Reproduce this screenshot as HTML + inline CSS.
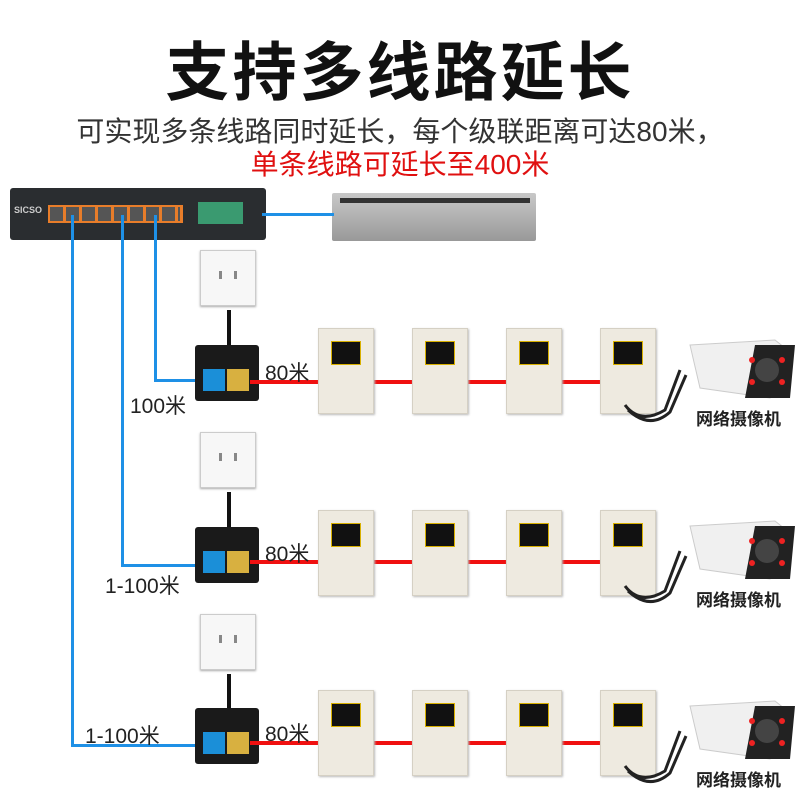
<!DOCTYPE html>
<html><head><meta charset="utf-8"><style>
body{margin:0;width:800px;height:800px;background:#fff;position:relative;overflow:hidden;font-family:"Liberation Sans","Noto Sans CJK SC",sans-serif}
.a{position:absolute}
.ln{position:absolute;background:#1e90e6}
.rd{position:absolute;background:#f01010;height:4px}
.out{position:absolute;width:54px;height:54px;background:#f7f7f7;border:1px solid #ccc;box-shadow:0 1px 2px #aaa}
.out i{position:absolute;background:#888;width:3px;height:8px}
.inj{position:absolute;width:64px;height:56px;background:#1a1a1a;border-radius:3px}
.inj .b{position:absolute;left:8px;top:24px;width:22px;height:22px;background:#1b8fd8}
.inj .y{position:absolute;left:32px;top:24px;width:22px;height:22px;background:#d8b040}
.ext{position:absolute;width:54px;height:84px;background:#eeeae0;border:1px solid #d5d0c4;box-shadow:1px 1px 2px #bbb}
.ext i{position:absolute;left:12px;top:12px;width:28px;height:22px;background:#111;border:1px solid #d8b000}
.t{position:absolute;font-size:21px;color:#222}
.bl{position:absolute;width:4px;background:#111}
.cl{position:absolute;left:696px;font-size:17px;font-weight:bold;color:#222}
</style></head><body>
<div class="a" style="left:0;top:22px;width:800px;text-align:center;font-size:64px;font-weight:bold;color:#111;letter-spacing:3px">支持多线路延长</div>
<div class="a" style="left:0;top:110px;width:800px;text-align:center;font-size:28px;color:#333">可实现多条线路同时延长，每个级联距离可达80米，</div>
<div class="a" style="left:0;top:143px;width:800px;text-align:center;font-size:28px;color:#e01010">单条线路可延长至400米</div>

<div class="a" style="left:10px;top:188px;width:256px;height:52px;background:#2a2d30;border-radius:3px"></div>
<div class="a" style="left:48px;top:205px;width:135px;height:18px;background:#e87d2a"></div>
<div class="a" style="left:50px;top:207px;width:130px;height:14px;background:repeating-linear-gradient(90deg,#555 0 13px,#e87d2a 13px 16px)"></div>
<div class="a" style="left:198px;top:202px;width:45px;height:22px;background:#3a9a70"></div>
<div class="a" style="left:14px;top:205px;color:#ccc;font-size:9px;font-weight:bold">SICSO</div>
<div class="a" style="left:332px;top:193px;width:204px;height:48px;background:linear-gradient(#c8c8c8,#999);border-radius:2px"></div>
<div class="a" style="left:340px;top:198px;width:190px;height:5px;background:#333"></div>
<div class="ln" style="left:262px;top:213px;width:72px;height:3px"></div>

<div class="ln" style="left:71px;top:215px;width:3px;height:532px"></div>
<div class="ln" style="left:71px;top:744px;width:135px;height:3px"></div>
<div class="ln" style="left:121px;top:215px;width:3px;height:352px"></div>
<div class="ln" style="left:121px;top:564px;width:85px;height:3px"></div>
<div class="ln" style="left:154px;top:215px;width:3px;height:167px"></div>
<div class="ln" style="left:154px;top:379px;width:52px;height:3px"></div>

<div class="out" style="left:200px;top:250px"><i style="left:18px;top:20px"></i><i style="left:33px;top:20px"></i></div>
<div class="out" style="left:200px;top:432px"><i style="left:18px;top:20px"></i><i style="left:33px;top:20px"></i></div>
<div class="out" style="left:200px;top:614px"><i style="left:18px;top:20px"></i><i style="left:33px;top:20px"></i></div>
<div class="bl" style="left:227px;top:310px;height:36px"></div>
<div class="bl" style="left:227px;top:492px;height:36px"></div>
<div class="bl" style="left:227px;top:674px;height:36px"></div>
<div class="inj" style="left:195px;top:345px"><div class="b"></div><div class="y"></div></div>
<div class="inj" style="left:195px;top:527px"><div class="b"></div><div class="y"></div></div>
<div class="inj" style="left:195px;top:708px"><div class="b"></div><div class="y"></div></div>

<div class="rd" style="left:250px;top:380px;width:360px"></div>
<div class="rd" style="left:250px;top:560px;width:360px"></div>
<div class="rd" style="left:250px;top:741px;width:360px"></div>

<div class="t" style="left:265px;top:357px">80米</div>
<div class="t" style="left:130px;top:390px">100米</div>
<div class="t" style="left:265px;top:538px">80米</div>
<div class="t" style="left:105px;top:570px">1-100米</div>
<div class="t" style="left:265px;top:718px">80米</div>
<div class="t" style="left:85px;top:720px">1-100米</div>

<div class="ext" style="left:318px;top:328px"><i></i></div>
<div class="ext" style="left:412px;top:328px"><i></i></div>
<div class="ext" style="left:506px;top:328px"><i></i></div>
<div class="ext" style="left:600px;top:328px"><i></i></div>
<div class="ext" style="left:318px;top:510px"><i></i></div>
<div class="ext" style="left:412px;top:510px"><i></i></div>
<div class="ext" style="left:506px;top:510px"><i></i></div>
<div class="ext" style="left:600px;top:510px"><i></i></div>
<div class="ext" style="left:318px;top:690px"><i></i></div>
<div class="ext" style="left:412px;top:690px"><i></i></div>
<div class="ext" style="left:506px;top:690px"><i></i></div>
<div class="ext" style="left:600px;top:690px"><i></i></div>

<svg class="a" style="left:0;top:0" width="800" height="800">
<g id="c1" fill="none">
<path d="M625 405 Q640 425 665 410 L680 370" stroke="#222" stroke-width="3"/>
<path d="M628 410 Q650 430 670 412 L686 375" stroke="#222" stroke-width="3"/>
<path d="M690 345 L775 340 L790 352 L790 385 L770 398 L700 388 Z" fill="#f0f0f0" stroke="#ccc"/>
<path d="M755 345 L795 345 L790 398 L745 398 Z" fill="#222"/>
<circle cx="767" cy="370" r="12" fill="#444"/>
<circle cx="752" cy="360" r="3" fill="#e22"/><circle cx="782" cy="360" r="3" fill="#e22"/>
<circle cx="752" cy="382" r="3" fill="#e22"/><circle cx="782" cy="382" r="3" fill="#e22"/>
</g>
<use href="#c1" y="181"/>
<use href="#c1" y="361"/>
</svg>
<div class="cl" style="top:405px">网络摄像机</div>
<div class="cl" style="top:586px">网络摄像机</div>
<div class="cl" style="top:766px">网络摄像机</div>
</body></html>
